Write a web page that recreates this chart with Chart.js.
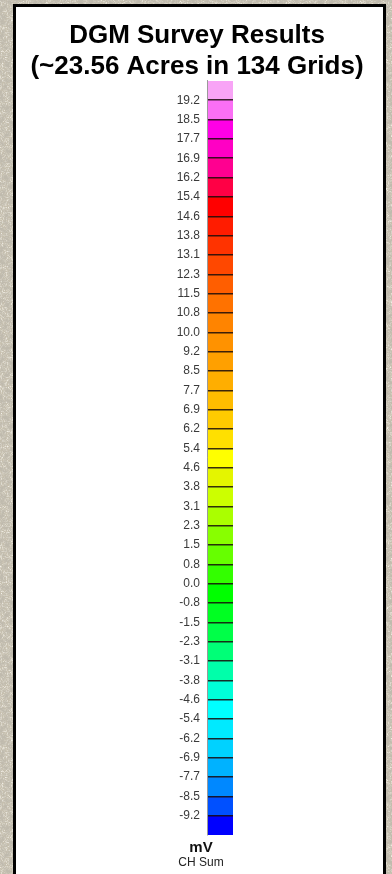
<!DOCTYPE html>
<html>
<head>
<meta charset="utf-8">
<title>DGM Survey Results</title>
<script src="https://cdn.jsdelivr.net/npm/chart.js@4.4.1/dist/chart.umd.min.js"></script>
<style>
  html, body { margin: 0; padding: 0; }
  body {
    width: 392px; height: 874px; overflow: hidden; position: relative;
    background-color: #c6bfae;
    background-image: url("data:image/svg+xml,%3Csvg xmlns='http://www.w3.org/2000/svg' width='240' height='240'%3E%3Cfilter id='n'%3E%3CfeTurbulence type='fractalNoise' baseFrequency='0.2' numOctaves='4' seed='7'/%3E%3CfeColorMatrix values='0 0 0 0 0.52 0 0 0 0 0.49 0 0 0 0 0.42 2.8 0 0 0 -1.0'/%3E%3C/filter%3E%3Crect width='240' height='240' filter='url(%23n)'/%3E%3C/svg%3E"),
      url("data:image/svg+xml,%3Csvg xmlns='http://www.w3.org/2000/svg' width='180' height='180'%3E%3Cfilter id='m'%3E%3CfeTurbulence type='fractalNoise' baseFrequency='0.8' numOctaves='2' seed='3'/%3E%3CfeColorMatrix values='0 0 0 0 0.90 0 0 0 0 0.88 0 0 0 0 0.82 2.4 0 0 0 -1.0'/%3E%3C/filter%3E%3Crect width='180' height='180' filter='url(%23m)'/%3E%3C/svg%3E");
  }
  #panel {
    position: absolute; left: 13px; top: 4px; width: 367px; height: 900px;
    background: #ffffff; border: 3px solid #000;
  }
  #wrap { position: absolute; left: 0; top: 0; width: 392px; height: 874px; }
</style>
</head>
<body>
<div id="panel"></div>
<div id="wrap"><canvas id="legendBar"></canvas></div>
<script>
// Title lines
const titleLines = ['DGM Survey Results', '(~23.56 Acres in 134 Grids)'];

// Unit caption under the colour bar
const unitLabel = 'mV';
const channelLabel = 'CH Sum';

// Class breaks of the colour scale (mV), top to bottom
const classBreaks = [
  19.2, 18.5, 17.7, 16.9, 16.2, 15.4, 14.6, 13.8, 13.1, 12.3,
  11.5, 10.8, 10.0, 9.2, 8.5, 7.7, 6.9, 6.2, 5.4, 4.6,
  3.8, 3.1, 2.3, 1.5, 0.8, 0.0, -0.8, -1.5, -2.3, -3.1,
  -3.8, -4.6, -5.4, -6.2, -6.9, -7.7, -8.5, -9.2
];

// Tick labels printed beside the breaks
const tickLabels = [
  '19.2', '18.5', '17.7', '16.9', '16.2', '15.4', '14.6', '13.8', '13.1', '12.3',
  '11.5', '10.8', '10.0', '9.2', '8.5', '7.7', '6.9', '6.2', '5.4', '4.6',
  '3.8', '3.1', '2.3', '1.5', '0.8', '0.0', '-0.8', '-1.5', '-2.3', '-3.1',
  '-3.8', '-4.6', '-5.4', '-6.2', '-6.9', '-7.7', '-8.5', '-9.2'
];

// Fill colour of each class box, top to bottom (one more box than breaks)
const classColors = [
  '#f8a4f6', '#fb6ff5', '#ff00e6', '#ff00c4', '#ff0090', '#ff0045', '#ff0000',
  '#ff1c00', '#ff3300', '#ff4800', '#ff5e00', '#ff7200', '#ff8400', '#ff9200',
  '#ffa000', '#ffae00', '#ffbc00', '#ffcb00', '#ffe000', '#ffff00', '#e4f500',
  '#ccff00', '#aaff00', '#88ff00', '#66ff00', '#33ff00', '#00ff00', '#00ff22',
  '#00ff48', '#00ff77', '#00ffaa', '#00ffd8', '#00ffff', '#00eaff', '#00d2ff',
  '#00b2ff', '#0088ff', '#0050ff', '#0000ff'
];

// Every class gets one equal-height box in the legend
const boxCount = classColors.length;

// Stack the boxes bottom-up: the lowest class first
const datasets = classColors.slice().reverse().map(color => ({
  data: [1],
  backgroundColor: color,
  borderWidth: 0,
  barPercentage: 1,
  categoryPercentage: 1
}));

const FONT = "'Liberation Sans', Arial, Helvetica, sans-serif";
Chart.defaults.font.family = FONT;

// Draws the unit caption centred just left of the bar's middle
const unitCaption = {
  id: 'unitCaption',
  afterDraw(chart) {
    const { ctx, chartArea } = chart;
    const cx = chartArea.left - 6;
    ctx.save();
    ctx.textAlign = 'center';
    ctx.textBaseline = 'middle';
    ctx.fillStyle = '#111';
    ctx.font = `bold 15px ${FONT}`;
    ctx.fillText(unitLabel, cx, chartArea.bottom + 13);
    ctx.fillStyle = '#222';
    ctx.font = `12px ${FONT}`;
    ctx.fillText(channelLabel, cx, chartArea.bottom + 28);
    ctx.restore();
  }
};

new Chart(document.getElementById('legendBar'), {
  type: 'bar',
  data: { labels: [channelLabel], datasets },
  plugins: [unitCaption],
  options: {
    responsive: true,
    maintainAspectRatio: false,
    animation: false,
    layout: { padding: { left: 12, right: 10, top: 0, bottom: 39 } },
    plugins: {
      legend: { display: false },
      tooltip: { enabled: false },
      title: {
        display: true,
        text: titleLines,
        color: '#000',
        font: { size: 26, weight: 'bold', lineHeight: 1.2 },
        padding: { top: 20.5, bottom: -2 }
      }
    },
    scales: {
      x: { display: false, stacked: true },
      y: {
        stacked: true,
        position: 'left',
        min: 0,
        max: boxCount,
        z: 1,
        afterFit(scale) { scale.width = 195; },
        // one tick on each boundary between neighbouring boxes
        afterBuildTicks(scale) {
          scale.ticks = classBreaks.map((v, k) => ({ value: boxCount - 1 - k }));
        },
        ticks: {
          autoSkip: false,
          padding: 7,
          color: '#3a3a3a',
          font: { size: 12 },
          callback: (value, index) => tickLabels[index]
        },
        grid: {
          z: 1,
          drawTicks: false,
          color: 'rgba(25, 10, 10, 0.85)',
          lineWidth: 1.5
        },
        border: { display: true, color: '#9a9a9a', width: 1, z: 1 }
      },
      ySpacer: {
        position: 'right',
        display: true,
        min: 0,
        max: boxCount,
        afterFit(scale) { scale.width = 149; },
        ticks: { display: false },
        grid: { display: false, drawTicks: false },
        border: { display: false }
      }
    }
  }
});
</script>
</body>
</html>
